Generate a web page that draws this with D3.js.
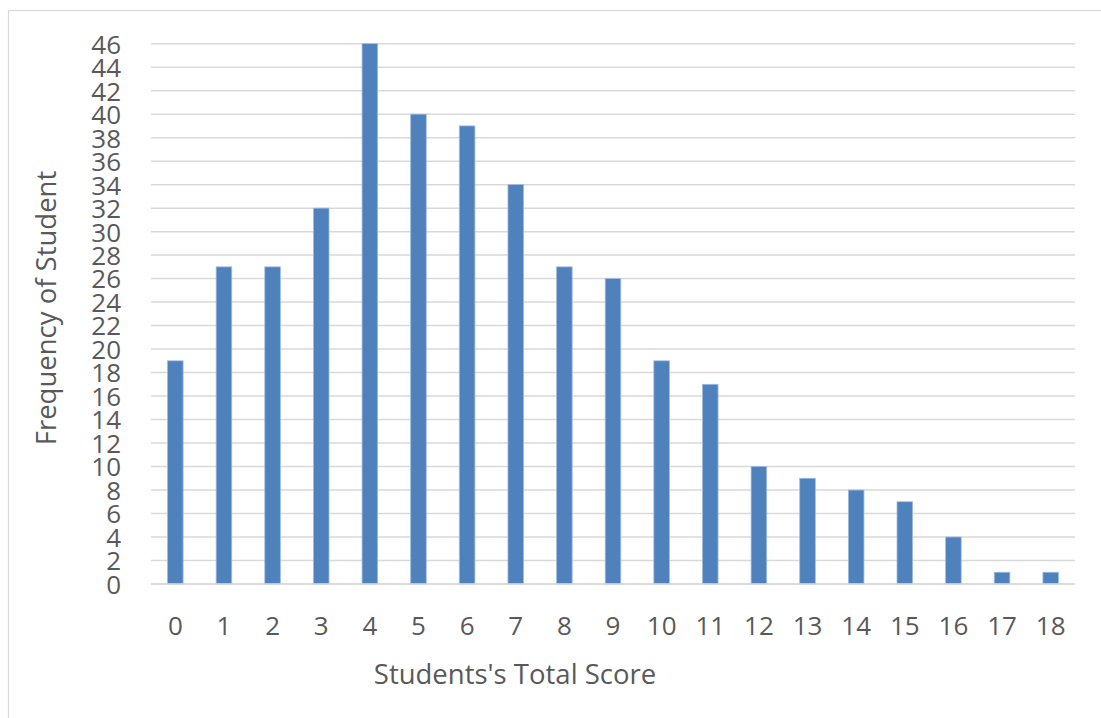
<!DOCTYPE html>
<html>
<head>
<meta charset="utf-8">
<script src="https://cdn.jsdelivr.net/npm/d3@7"></script>
<style>
  html, body { margin: 0; padding: 0; background: #ffffff; }
  svg { display: block; }
  text { font-family: "Open Sans", sans-serif; fill: #595959; }
</style>
</head>
<body>
<svg id="chart" width="1101" height="718"></svg>
<script>
// Score categories (x axis)
const scores = ["0","1","2","3","4","5","6","7","8","9","10","11","12","13","14","15","16","17","18"];
// Number of students per total score
const frequencies = [19, 27, 27, 32, 46, 40, 39, 34, 27, 26, 19, 17, 10, 9, 8, 7, 4, 1, 1];
// Y axis ticks
const yTicks = d3.range(0, 47, 2);

const svg = d3.select("#chart");
const W = 1101, H = 718;

// Chart frame
svg.append("rect")
  .attr("x", 8.5).attr("y", 10.5)
  .attr("width", W).attr("height", H)
  .attr("fill", "none")
  .attr("stroke", "#d9d9d9")
  .attr("stroke-width", 1.2);

const plot = { left: 151, right: 1075, top: 43.7, bottom: 584 };

const x = d3.scaleBand()
  .domain(scores)
  .range([plot.left, plot.right])
  .paddingInner(0.68)
  .paddingOuter(0.34);

const y = d3.scaleLinear()
  .domain([0, 46])
  .range([plot.bottom, plot.top]);

// Horizontal gridlines
svg.append("g")
  .selectAll("line")
  .data(yTicks)
  .join("line")
  .attr("x1", plot.left).attr("x2", plot.right)
  .attr("y1", d => y(d)).attr("y2", d => y(d))
  .attr("stroke", "#d9d9d9")
  .attr("stroke-width", 1.5);

// Y axis labels
const yAxis = d3.axisLeft(y).tickValues(yTicks).tickSize(0).tickPadding(0);
const gy = svg.append("g")
  .attr("transform", `translate(${plot.left - 30},0)`)
  .call(yAxis);
gy.select(".domain").remove();
gy.selectAll("text")
  .style("font-family", "'Open Sans', sans-serif")
  .style("font-size", "26px")
  .attr("fill", "#595959")
  .attr("dy", "0.36em");

// Bars
svg.append("g")
  .selectAll("rect")
  .data(frequencies)
  .join("rect")
  .attr("x", (d, i) => x(scores[i]))
  .attr("y", d => y(d))
  .attr("width", x.bandwidth())
  .attr("height", d => y(0) - y(d))
  .attr("fill", "#4f81bd")
  .attr("stroke", "#9dbbe0")
  .attr("stroke-width", 0.8);

// X axis baseline
svg.append("line")
  .attr("x1", plot.left).attr("x2", plot.right)
  .attr("y1", y(0)).attr("y2", y(0))
  .attr("stroke", "#d9d9d9")
  .attr("stroke-width", 1.5);

// X axis labels
const xAxis = d3.axisBottom(x).tickSize(0).tickPadding(0);
const gx = svg.append("g")
  .attr("transform", `translate(0,${plot.bottom + 51})`)
  .call(xAxis);
gx.select(".domain").remove();
gx.selectAll("text")
  .style("font-family", "'Open Sans', sans-serif")
  .style("font-size", "26px")
  .attr("fill", "#595959")
  .attr("dy", "0");

// Axis titles
svg.append("text")
  .attr("x", 515).attr("y", 684)
  .attr("text-anchor", "middle")
  .style("font-size", "27.5px")
  .text("Students's Total Score");

svg.append("text")
  .attr("transform", "translate(56,308) rotate(-90)")
  .attr("text-anchor", "middle")
  .style("font-size", "27.5px")
  .text("Frequency of Student");
</script>
</body>
</html>
